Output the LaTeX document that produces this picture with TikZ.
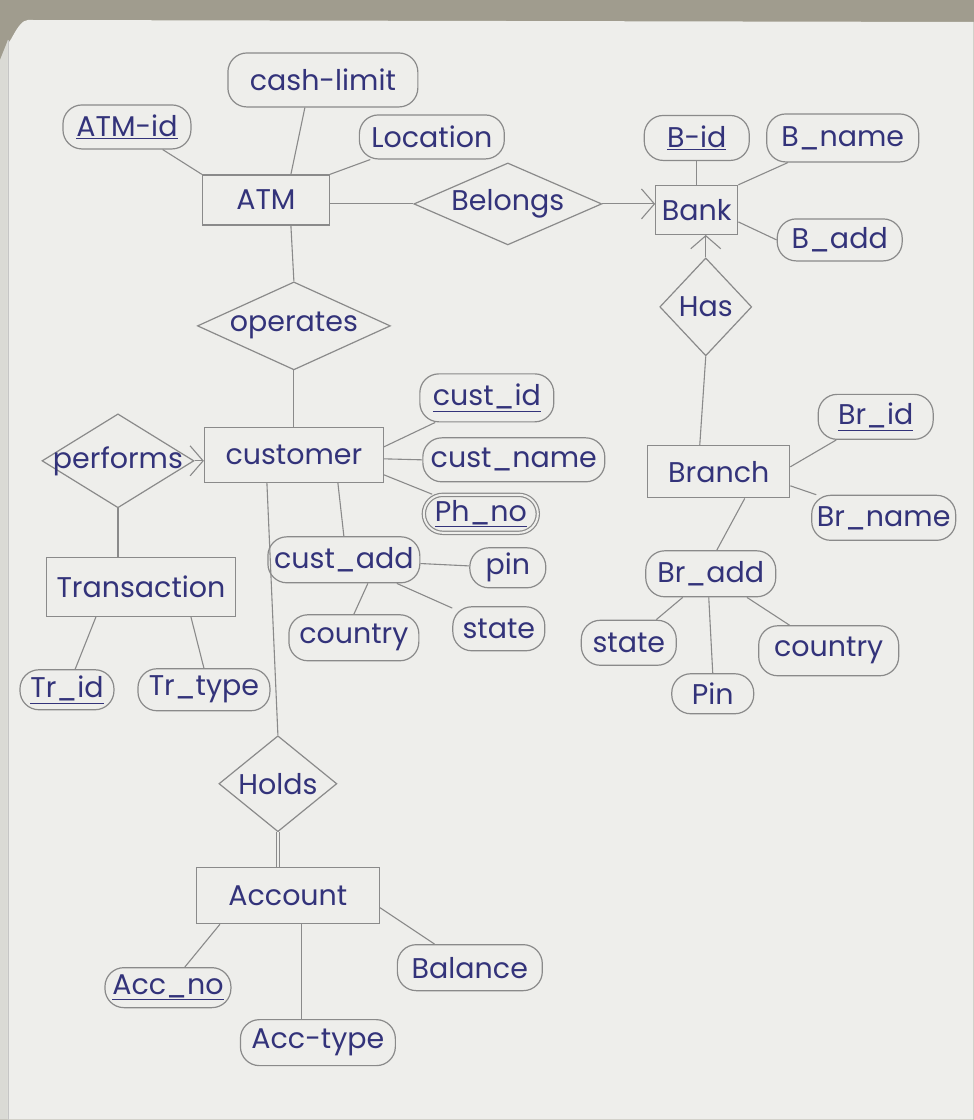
\documentclass[tikz,border=0pt]{standalone}
\usepackage{fontspec}
\setmainfont{Poppins}
\usetikzlibrary{shapes.geometric,arrows.meta}
\definecolor{ink}{HTML}{33337A}
\definecolor{pencil}{HTML}{8A8A8A}
\definecolor{paper}{HTML}{EEEEEB}
\definecolor{paperedge}{HTML}{DADAD5}
\definecolor{fabric}{HTML}{A09C8E}
\newcommand{\mylbl}[1]{\makebox[0pt]{#1}}
\begin{document}
\begin{tikzpicture}[x=1pt,y=-1pt,
  every node/.style={text=ink, font=\fontsize{28.5}{32}\selectfont},
  ent/.style={draw=pencil, line width=1.2pt, rectangle, inner sep=0pt},
  att/.style={draw=pencil, line width=1.2pt, rectangle, rounded corners=19pt, inner sep=0pt},
  multi/.style={att, double=paper, double distance=2pt},
  rel/.style={draw=pencil, line width=1.2pt, diamond, inner sep=0pt},
  link/.style={draw=pencil, line width=1.1pt},
  dbl/.style={draw=pencil, line width=0.9pt, double=paper, double distance=2pt},
  arr/.style={link, -{Straight Barb[length=13pt,width=30pt]}},
]
% background
\fill[fabric] (0,0) rectangle (974,1120);
\fill[paperedge] (0,60) -- (8,40) -- (8,1120) -- (0,1120) -- cycle;
\fill[paper] (8,1120) -- (8,40) to[out=-90,in=180] (28,20) -- (974,22) -- (974,1120) -- cycle;
\draw[pencil!50, line width=0.8pt] (8,40) -- (8,1120);
\useasboundingbox (0,0) rectangle (974,1120);

% ATM
\node[ent, minimum width=127, minimum height=50] (atm) at (266,200) {\mylbl{ATM}};
\node[att, minimum width=128, minimum height=44] (atmid) at (127,127) {\mylbl{\underline{ATM-id}}};
\node[att, minimum width=190, minimum height=54] (cash) at (323,80) {\mylbl{cash-limit}};
\node[att, minimum width=145, minimum height=44] (loc) at (432,137) {\mylbl{Location}};

% Belongs / Bank
\node[rel, minimum width=188, minimum height=82] (belongs) at (508,204) {\mylbl{Belongs}};
\node[ent, minimum width=82, minimum height=49] (bank) at (697,210) {\mylbl{Bank}};
\node[att, minimum width=105, minimum height=45] (bid) at (697,138) {\mylbl{\underline{B-id}}};
\node[att, minimum width=152, minimum height=48] (bname) at (843,138) {\mylbl{B\_name}};
\node[att, minimum width=125, minimum height=42] (badd) at (840,240) {\mylbl{B\_add}};

% Has / Branch
\node[rel, minimum width=92, minimum height=98] (has) at (706,307) {\mylbl{Has}};
\node[ent, minimum width=142, minimum height=52] (branch) at (719,472) {\mylbl{Branch}};
\node[att, minimum width=115, minimum height=45] (brid) at (876,417) {\mylbl{\underline{Br\_id}}};
\node[att, minimum width=144, minimum height=45] (brname) at (884,518) {\mylbl{Br\_name}};
\node[att, minimum width=130, minimum height=46] (bradd) at (711,574) {\mylbl{Br\_add}};
\node[att, minimum width=95, minimum height=45] (brstate) at (629,643) {\mylbl{state}};
\node[att, minimum width=140, minimum height=50] (brcountry) at (829,651) {\mylbl{country}};
\node[att, minimum width=82, minimum height=40] (brpin) at (713,694) {\mylbl{Pin}};

% operates / customer
\node[rel, minimum width=193, minimum height=88] (operates) at (294,326) {\mylbl{operates}};
\node[ent, minimum width=179, minimum height=55] (customer) at (294,455) {\mylbl{customer}};
\node[att, minimum width=134, minimum height=48] (custid) at (487,398) {\mylbl{\underline{cust\_id}}};
\node[att, minimum width=182, minimum height=44] (custname) at (514,460) {\mylbl{cust\_name}};
\node[multi, minimum width=114, minimum height=38] (phno) at (481,514) {\mylbl{\underline{Ph\_no}}};
\node[att, minimum width=152, minimum height=46] (custadd) at (344,560) {\mylbl{cust\_add}};
\node[att, minimum width=76, minimum height=40] (pin) at (508,568) {\mylbl{pin}};
\node[att, minimum width=130, minimum height=46] (country) at (354,638) {\mylbl{country}};
\node[att, minimum width=92, minimum height=44] (state) at (499,629) {\mylbl{state}};

% performs / Transaction
\node[rel, minimum width=152, minimum height=94] (performs) at (118,461) {\mylbl{performs}};
\node[ent, minimum width=189, minimum height=59] (trans) at (141,587) {\mylbl{Transaction}};
\node[att, minimum width=94, minimum height=40] (trid) at (67,690) {\mylbl{\underline{Tr\_id}}};
\node[att, minimum width=132, minimum height=42] (trtype) at (204,690) {\mylbl{Tr\_type}};

% Holds / Account
\node[rel, minimum width=118, minimum height=96] (holds) at (278,784) {\mylbl{Holds}};
\node[ent, minimum width=183, minimum height=56] (account) at (288,896) {\mylbl{Account}};
\node[att, minimum width=126, minimum height=40] (accno) at (168,988) {\mylbl{\underline{Acc\_no}}};
\node[att, minimum width=155, minimum height=46] (acctype) at (318,1043) {\mylbl{Acc-type}};
\node[att, minimum width=145, minimum height=46] (balance) at (470,968) {\mylbl{Balance}};

% connectors: ATM
\draw[link] (atmid) -- (atm.north west);
\draw[link] ([xshift=-18pt]cash.south) -- ([xshift=25pt]atm.north);
\draw[link] (loc) -- (atm.north east);
\draw[link] (belongs.west -| atm.east) -- (belongs.west);
\draw[arr] (belongs.east) -- (belongs.east -| bank.west);
\draw[link] (bid) -- (bank.north);
\draw[link] (bname) -- (bank.north east);
\draw[link] (badd.west) -- ([yshift=-12pt]bank.east);
\draw[arr] (has.north) -- (has.north |- bank.south);
\draw[link] ([xshift=25pt]atm.south) -- (operates.north);
\draw[link] (operates.south) -- (customer.north);

% customer
\draw[arr] (performs.east) -- (performs.east -| customer.west);
\draw[link] (performs.south) -- (performs.south |- trans.north);
\draw[link] ([xshift=-45pt]trans.south) -- (trid);
\draw[link] ([xshift=50pt]trans.south) -- (trtype.north);
\draw[link] (custid) -- ([yshift=8pt]customer.east);
\draw[link] (custname.west) -- ([yshift=-4pt]customer.east);
\draw[link] (phno) -- ([yshift=-20pt]customer.east);
\draw[link] ([xshift=44pt]customer.south) -- (custadd.north);
\draw[link] (custadd) -- (pin);
\draw[link] ([xshift=24pt]custadd.south) -- (country.north);
\draw[link] (custadd) -- (state);
\draw[link] ([xshift=-27pt]customer.south) -- (holds.north);
\draw[dbl] (holds.south) -- (holds.south |- account.north);

% Account
\draw[link] ([xshift=-68pt]account.south) -- (accno);
\draw[link] ([xshift=14pt]account.south) -- ([xshift=14pt]account.south |- acctype.north);
\draw[link] (balance) -- ([yshift=-12pt]account.east);

% Branch
\draw[link] (has.south) -- ([xshift=-19pt]branch.north);
\draw[link] (brid) -- ([yshift=5pt]branch.east);
\draw[link] (brname) -- ([yshift=-14pt]branch.east);
\draw[link] ([xshift=26pt]branch.south) -- ([xshift=6pt]bradd.north);
\draw[link] (bradd) -- (brstate);
\draw[link] ([xshift=-2pt]bradd.south) -- (brpin.north);
\draw[link] (bradd) -- (brcountry);
\end{tikzpicture}
\end{document}
